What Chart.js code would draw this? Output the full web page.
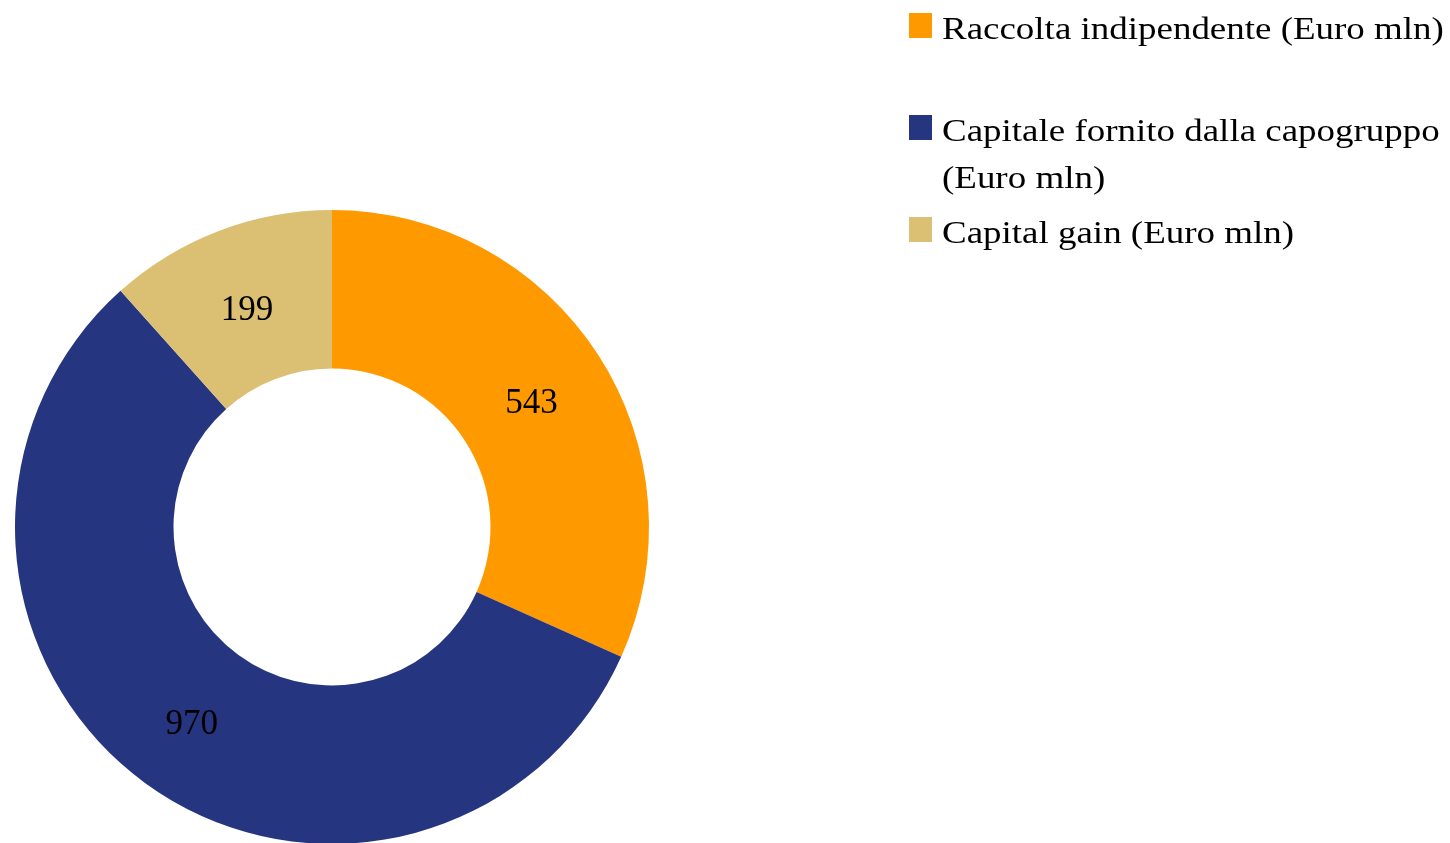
<!DOCTYPE html>
<html>
<head>
<meta charset="utf-8">
<script src="https://cdn.jsdelivr.net/npm/chart.js@4/dist/chart.umd.min.js"></script>
<style>
  html, body { margin: 0; padding: 0; background: #fff; overflow: hidden; }
  #wrap { position: absolute; left: 0; top: 0; width: 1450px; height: 860px; }
  #legend { position: absolute; left: 909px; top: 0; font-family: "Liberation Serif", "Times New Roman", serif; font-size: 32px; color: #000; }
  .item { position: absolute; left: 0; width: 540px; line-height: 47px; }
  .box { position: absolute; left: 0; width: 23px; height: 25px; }
  .txt { position: absolute; left: 33px; width: 470px; transform: scaleX(1.155); transform-origin: left top; }
</style>
</head>
<body>
<div id="wrap"><canvas id="donut"></canvas></div>
<div id="legend"></div>
<script>
const labels = ['Raccolta indipendente (Euro mln)', 'Capitale fornito dalla capogruppo (Euro mln)', 'Capital gain (Euro mln)'];
const values = [543, 970, 199];
const colors = ['#FF9900', '#263580', '#DBC074'];

// legend layout (line tops and square tops)
const legendTops = [5, 107, 209];
const boxTops = [13, 115, 217];

const legend = document.getElementById('legend');
labels.forEach((l, i) => {
    const box = document.createElement('div');
    box.className = 'box';
    box.style.top = boxTops[i] + 'px';
    box.style.background = colors[i];
    legend.appendChild(box);
    const t = document.createElement('div');
    t.className = 'item txt';
    t.style.top = legendTops[i] + 'px';
    t.textContent = l;
    legend.appendChild(t);
});

const valueLabels = {
    id: 'valueLabels',
    afterDatasetsDraw(chart) {
        const c = chart.ctx;
        const meta = chart.getDatasetMeta(0);
        c.save();
        c.font = '35px "Liberation Serif", "Times New Roman", serif';
        c.fillStyle = '#000';
        c.textAlign = 'center';
        c.textBaseline = 'middle';
        meta.data.forEach((arc, i) => {
            const p = arc.tooltipPosition();
            c.fillText(String(values[i]), p.x, p.y + 6);
        });
        c.restore();
    }
};

new Chart(document.getElementById('donut').getContext('2d'), {
    type: 'doughnut',
    data: {
        labels: labels,
        datasets: [{
            data: values,
            backgroundColor: colors,
            borderWidth: 0,
            hoverOffset: 0
        }]
    },
    options: {
        responsive: true,
        maintainAspectRatio: false,
        animation: false,
        cutout: '50%',
        layout: { padding: { left: 15, top: 210, right: 801, bottom: 16 } },
        plugins: {
            legend: { display: false },
            tooltip: { enabled: false }
        }
    },
    plugins: [valueLabels]
});
</script>
</body>
</html>
